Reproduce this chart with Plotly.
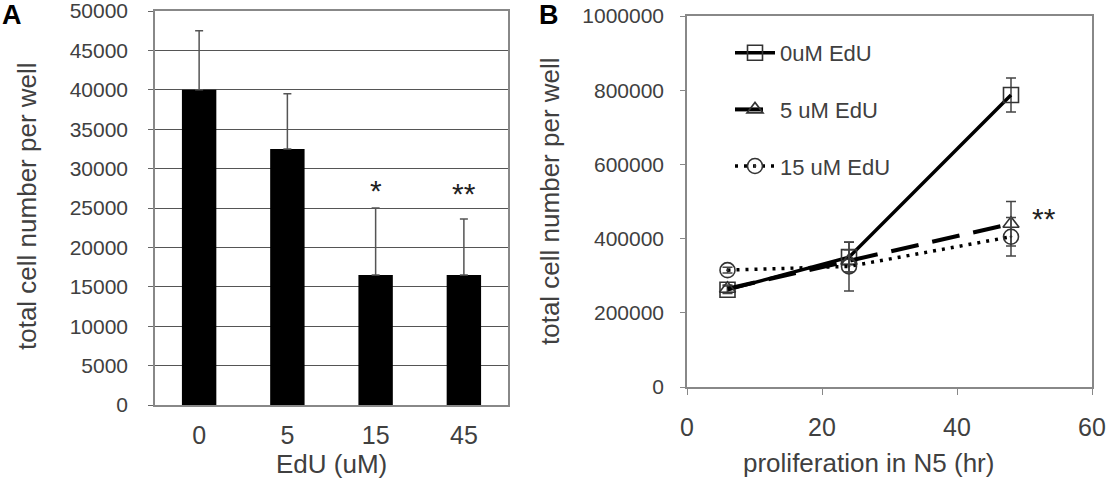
import plotly.graph_objects as go

# ---------------- data ----------------
# Panel A
edu_conc = ["0", "5", "15", "45"]
cell_counts = [40000, 32500, 16500, 16500]
cell_err = [7500, 7000, 8500, 7100]
sig_labels = ["", "", "*", "**"]
sig_y = [None, None, 27200, 26800]

# Panel B
hours = [6, 24, 48]
s0_name = "0uM EdU"
s0_vals = [262000, 350000, 787000]
s0_err = [10000, 40000, 46000]
s5_name = "5 uM EdU"
s5_vals = [265000, 340000, 440000]
s5_err = [10000, 30000, 60000]
s15_name = "15 uM EdU"
s15_vals = [315000, 325000, 405000]
s15_err = [8000, 66000, 52000]
sigB_label = "**"
sigB_x = 50.8
sigB_y = 455000

yA_ticks = list(range(0, 50001, 5000))
yB_ticks = list(range(0, 1000001, 200000))
xB_ticks = [0, 20, 40, 60]

W, H = 1111, 478
FONT = "Liberation Sans, Arial, sans-serif"
TXT = "#404040"

def px_x(p):
    return p / W

def px_y(p):
    return 1 - p / H

fig = go.Figure()

cat_idx = list(range(len(edu_conc)))

# Panel A bars (positions are category indices, labelled with the concentrations)
fig.add_trace(go.Bar(
    x=cat_idx, y=cell_counts,
    marker=dict(color="black", line=dict(width=0)),
    width=0.39,
    error_y=dict(type="data", array=cell_err, arrayminus=[0]*len(cell_err),
                 symmetric=False, color="#555555", thickness=1.5, width=4),
    xaxis="x", yaxis="y", showlegend=False,
))

# Panel B lines
mk_line = "#333333"
fig.add_trace(go.Scatter(
    x=hours, y=s0_vals, name=s0_name, mode="lines+markers",
    line=dict(color="black", width=3.5),
    marker=dict(symbol="square-open", size=15, color=mk_line, line=dict(width=1.6, color=mk_line)),
    error_y=dict(type="data", array=s0_err, color="#444444", thickness=1.5, width=5),
    xaxis="x2", yaxis="y2", legendgroup="a",
))
fig.add_trace(go.Scatter(
    x=hours, y=s5_vals, name=s5_name, mode="lines+markers",
    line=dict(color="black", width=4, dash="28px,14px"),
    marker=dict(symbol="triangle-up-open", size=14, color=mk_line, line=dict(width=1.6, color=mk_line)),
    error_y=dict(type="data", array=s5_err, color="#444444", thickness=1.5, width=5),
    xaxis="x2", yaxis="y2", legendgroup="b",
))
fig.add_trace(go.Scatter(
    x=hours, y=s15_vals, name=s15_name, mode="lines+markers",
    line=dict(color="black", width=3.5, dash="3px,6px"),
    marker=dict(symbol="circle-open-dot", size=15, color=mk_line, line=dict(width=1.6, color=mk_line)),
    error_y=dict(type="data", array=s15_err, color="#444444", thickness=1.5, width=5),
    xaxis="x2", yaxis="y2", legendgroup="c",
))

annotations = []
# significance markers panel A
for i, lab, yy in zip(cat_idx, sig_labels, sig_y):
    if lab:
        annotations.append(dict(x=i, y=yy, xref="x", yref="y", text=lab, showarrow=False,
                                font=dict(family=FONT, size=30, color="#222222"), yanchor="middle"))
# significance panel B
annotations.append(dict(x=sigB_x, y=sigB_y, xref="x2", yref="y2", text=sigB_label, showarrow=False,
                        xanchor="left", yanchor="middle",
                        font=dict(family=FONT, size=30, color="#222222")))

# axis titles
annotations += [
    dict(x=px_x(27), y=px_y(206), xref="paper", yref="paper", text="total cell number per well",
         textangle=-90, showarrow=False, font=dict(family=FONT, size=26, color=TXT),
         xanchor="center", yanchor="middle"),
    dict(x=px_x(331), y=px_y(464), xref="paper", yref="paper", text="EdU (uM)",
         showarrow=False, font=dict(family=FONT, size=26, color=TXT),
         xanchor="center", yanchor="middle"),
    dict(x=px_x(550), y=px_y(201), xref="paper", yref="paper", text="total cell number per well",
         textangle=-90, showarrow=False, font=dict(family=FONT, size=26, color=TXT),
         xanchor="center", yanchor="middle"),
    dict(x=px_x(868), y=px_y(463), xref="paper", yref="paper", text="proliferation in N5 (hr)",
         showarrow=False, font=dict(family=FONT, size=26, color=TXT),
         xanchor="center", yanchor="middle"),
    dict(x=0, y=px_y(15), xref="paper", yref="paper", text="<b>A</b>",
         showarrow=False, font=dict(family=FONT, size=27, color="black"),
         xanchor="left", yanchor="middle"),
    dict(x=px_x(537), y=px_y(15), xref="paper", yref="paper", text="<b>B</b>",
         showarrow=False, font=dict(family=FONT, size=27, color="black"),
         xanchor="left", yanchor="middle"),
]

fig.update_layout(
    width=W, height=H,
    margin=dict(l=0, r=0, t=0, b=0),
    paper_bgcolor="white", plot_bgcolor="white",
    font=dict(family=FONT, color=TXT),
    xaxis=dict(domain=[px_x(155), px_x(508)], range=[-0.5, len(edu_conc) - 0.5],
               tickvals=cat_idx, ticktext=edu_conc,
               showline=True, linecolor="#888888", linewidth=1.5, mirror=True,
               ticks="", tickfont=dict(size=25, family=FONT, color=TXT),
               ticklabelstandoff=7, showgrid=False, zeroline=False, automargin=False),
    yaxis=dict(domain=[px_y(405), px_y(11)], range=[0, 50000], tickvals=yA_ticks,
               tickformat="d", ticklabeloverflow="allow",
               showline=True, linecolor="#888888", linewidth=1.5, mirror=True,
               ticks="outside", ticklen=5, tickcolor="#666666",
               showgrid=True, gridcolor="#555555", gridwidth=1.3,
               tickfont=dict(size=21, family=FONT, color=TXT), ticklabelstandoff=16,
               zeroline=False, automargin=False),
    xaxis2=dict(domain=[px_x(687), px_x(1092)], range=[0, 60], tickvals=xB_ticks,
                showline=True, linecolor="#888888", linewidth=1.5, mirror=True,
                ticks="outside", ticklen=6, tickcolor="#888888", ticklabeloverflow="allow",
                tickfont=dict(size=25, family=FONT, color=TXT), ticklabelstandoff=11,
                showgrid=False, zeroline=False, anchor="y2", automargin=False),
    yaxis2=dict(domain=[px_y(387), px_y(16)], range=[0, 1000000], tickvals=yB_ticks,
                showline=True, linecolor="#888888", linewidth=1.5, mirror=True,
                ticks="outside", ticklen=5, tickcolor="#888888", ticklabeloverflow="allow",
                tickfont=dict(size=21, family=FONT, color=TXT), ticklabelstandoff=12,
                showgrid=False, zeroline=False, anchor="x2", automargin=False,
                tickformat="d"),
    legend=dict(x=px_x(730), y=px_y(32), xanchor="left", yanchor="top",
                bgcolor="rgba(0,0,0,0)", font=dict(family=FONT, size=22, color=TXT),
                tracegroupgap=25, itemwidth=40),
    annotations=annotations,
)

fig.write_html("out.html")
